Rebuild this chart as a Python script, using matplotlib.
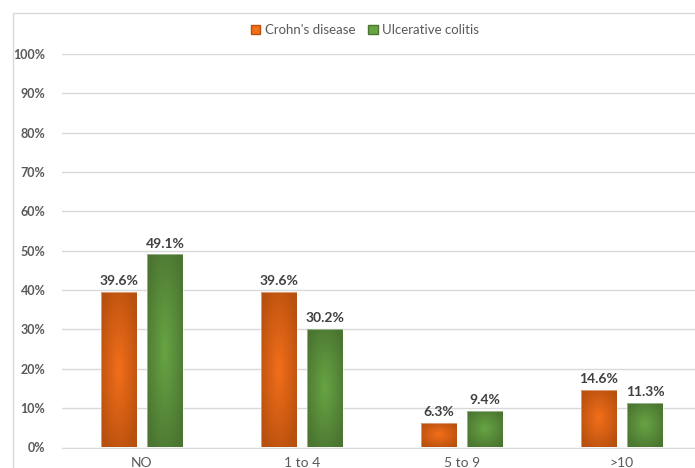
import numpy as np
import matplotlib.pyplot as plt
from matplotlib.patches import Rectangle

categories = ['NO', '1 to 4', '5 to 9', '>10']
crohns = [39.6, 39.6, 6.3, 14.6]
colitis = [49.1, 30.2, 9.4, 11.3]
series_names = ["Crohn's disease", 'Ulcerative colitis']

# (edge colour, centre colour) for the path gradient fill
orange = ('#b8500f', '#f26f1a')
green = ('#4b7531', '#67a443')

plt.rcParams['font.family'] = ['Lato', 'DejaVu Sans']

fig = plt.figure(figsize=(6.95, 4.68), dpi=100)
W, H = 695, 468

# outer chart border (runs off the right and bottom edge)
fig.patches.append(Rectangle((13 / W, -0.05), 1.0, 1 - 13 / H + 0.05,
                             transform=fig.transFigure, fill=False,
                             edgecolor='#d9d9d9', linewidth=1.0))

ax = fig.add_axes([62 / W, (H - 447.5) / H, 640 / W, (447.5 - 54) / H])
ax.set_xlim(-0.5, 3.5)
ax.set_ylim(0, 100)
ax.set_yticks(np.arange(0, 101, 10))
ax.set_yticklabels([f'{v}%' for v in range(0, 101, 10)])
ax.yaxis.grid(True, color='#d9d9d9', linewidth=1.0)
ax.set_axisbelow(True)
for s in ['top', 'right', 'left']:
    ax.spines[s].set_visible(False)
ax.spines['bottom'].set_color('#d9d9d9')
ax.tick_params(axis='both', length=0, colors='#595959')
ax.tick_params(axis='y', pad=12, labelsize=9)
ax.tick_params(axis='x', pad=7, labelsize=10)
for lbl in ax.get_yticklabels():
    lbl.set_fontweight('bold')
ax.set_xticks(range(len(categories)))
ax.set_xticklabels(categories, fontsize=10, color='#595959')


def gradient_bar(x, h, w, cols):
    edge = np.array(plt.matplotlib.colors.to_rgb(cols[0]))
    centre = np.array(plt.matplotlib.colors.to_rgb(cols[1]))
    n = 200
    u = np.linspace(-1, 1, n)
    X, Y = np.meshgrid(u, u)
    r = np.clip(np.sqrt(X ** 2 + Y ** 2) / 1.2, 0, 1)
    img = centre[None, None, :] * (1 - r[..., None]) + edge[None, None, :] * r[..., None]
    im = ax.imshow(img, extent=(x - w / 2, x + w / 2, 0, h), aspect='auto',
                   origin='lower', zorder=2, interpolation='bilinear')
    rect = Rectangle((x - w / 2, 0), w, h, facecolor='none',
                     edgecolor='#ffffff', linewidth=0.6, alpha=0.5, zorder=3)
    ax.add_patch(rect)
    im.set_clip_path(rect)


width = 0.225
offset = 0.144
xs = np.arange(len(categories))
for i in xs:
    for val, dx, cols in [(crohns[i], -offset, orange), (colitis[i], offset, green)]:
        gradient_bar(i + dx, val, width, cols)
        ax.text(i + dx, val + 1.2, f'{val:.1f}%', ha='center', va='bottom',
                fontsize=10, fontweight='bold', color='#404040', zorder=4)

ax.set_xlim(-0.5, 3.5)
ax.set_ylim(0, 100)

handles = [Rectangle((0, 0), 1, 1, facecolor=orange[1], edgecolor=orange[0]),
           Rectangle((0, 0), 1, 1, facecolor=green[1], edgecolor=green[0])]
fig.legend(handles, series_names, loc='center', bbox_to_anchor=(365 / W, 1 - 30 / H),
           ncol=2, frameon=False, fontsize=9.5, handlelength=0.7, handleheight=0.7,
           handletextpad=0.35, columnspacing=1.0, labelcolor='#595959')

fig.savefig('out.png', dpi=100)
